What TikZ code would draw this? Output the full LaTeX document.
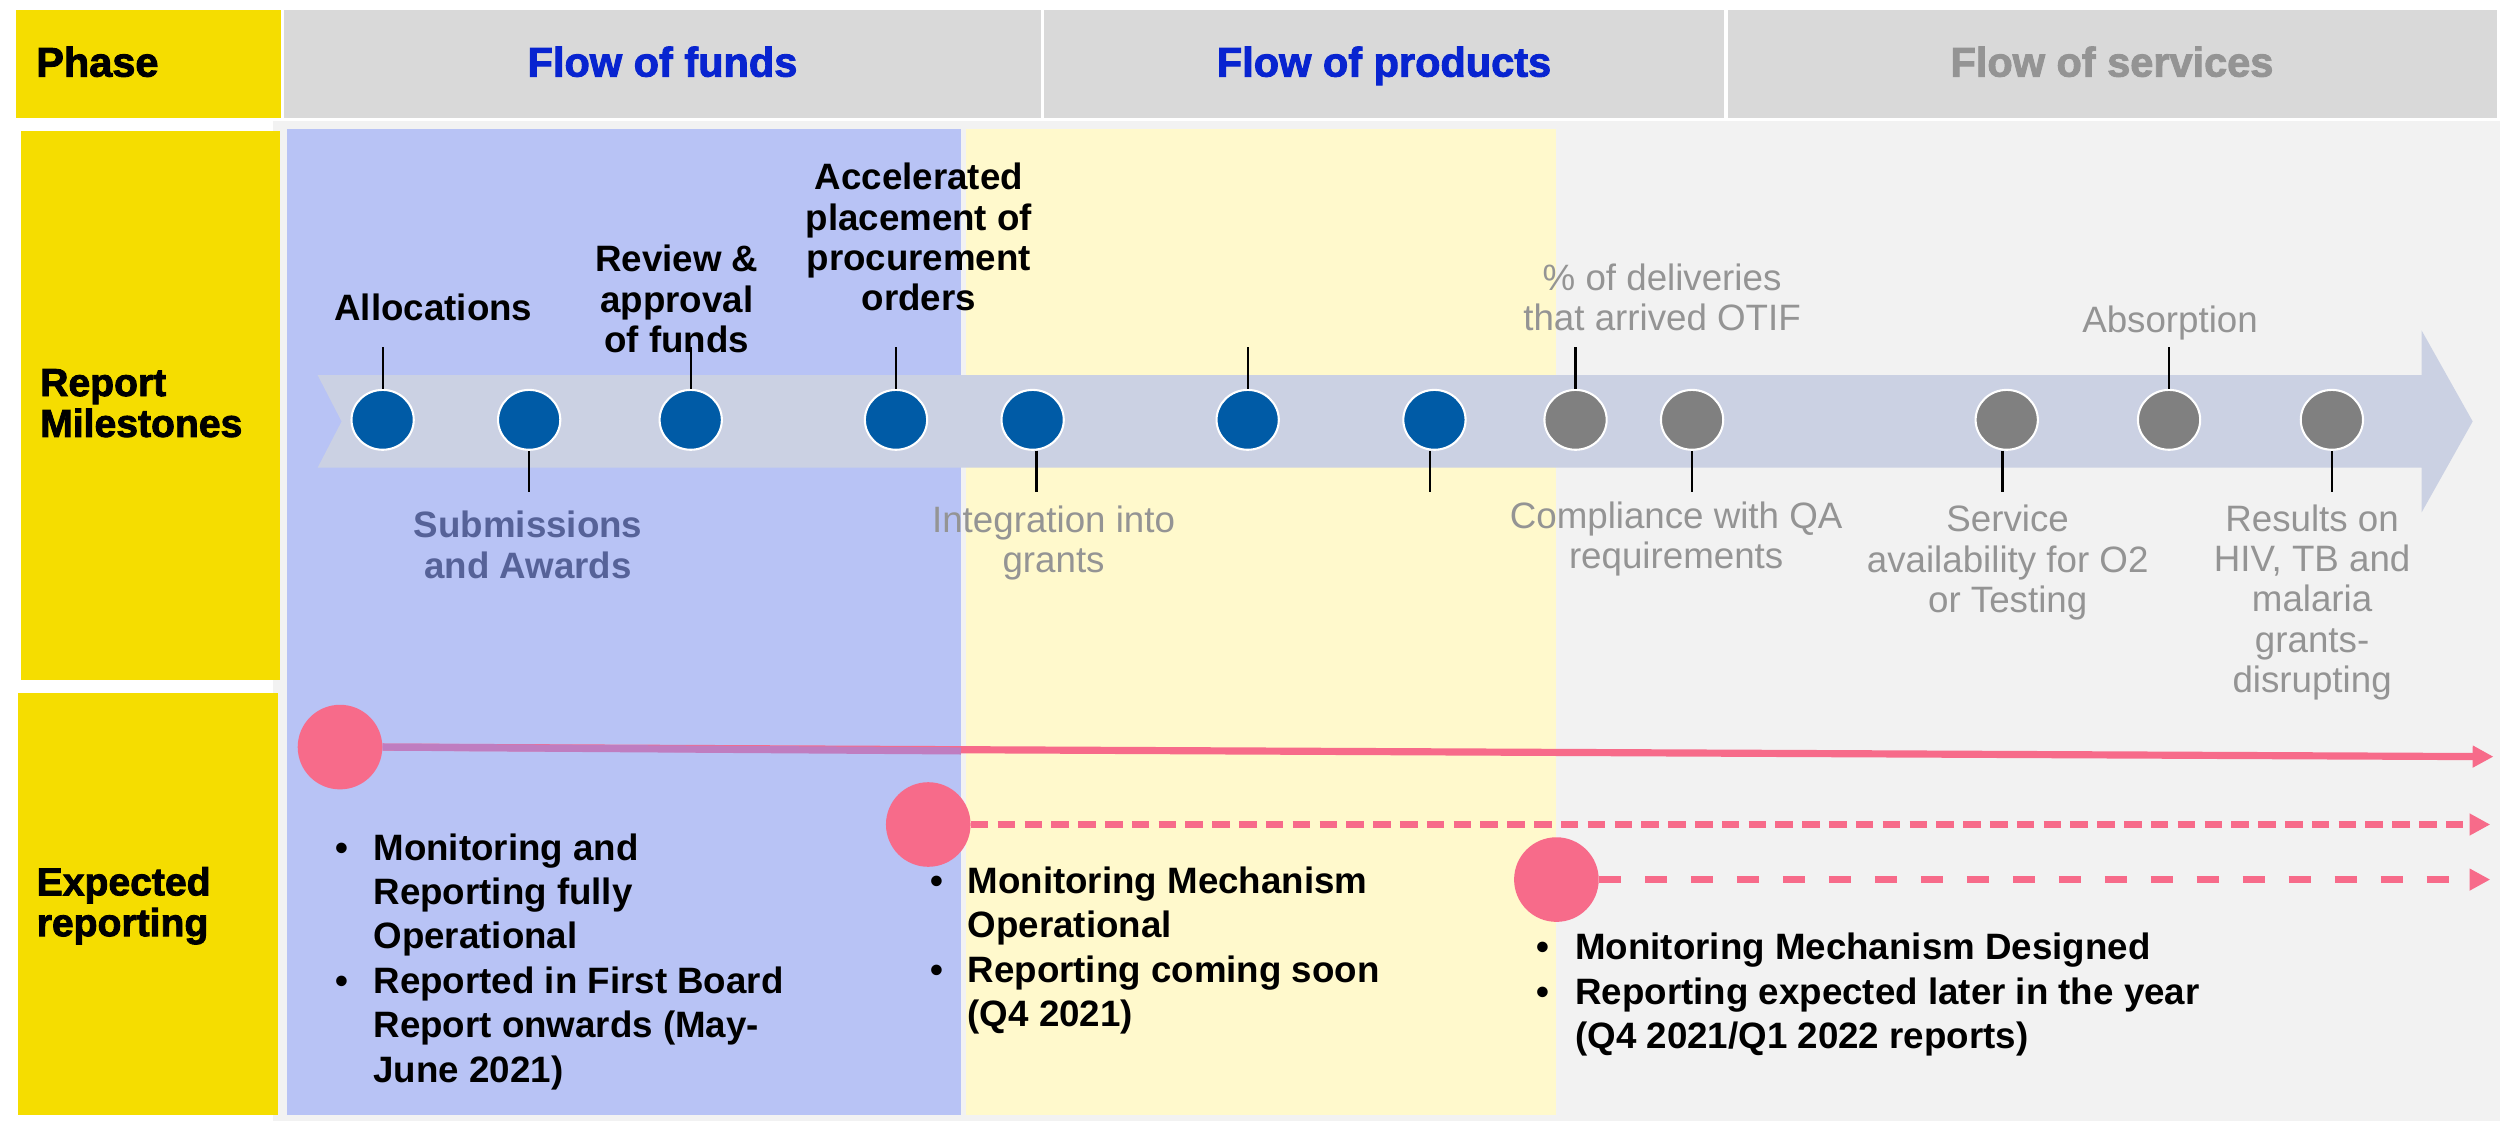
\documentclass[tikz,border=0pt]{standalone}
\usepackage{fontspec}
\setmainfont{Liberation Sans}
\newfontfamily\heavyfont[BoldFeatures={FakeBold=2.2}]{Liberation Sans}
\usetikzlibrary{arrows.meta,shapes.geometric}
\definecolor{yel}{RGB}{245,221,0}
\definecolor{hdrgray}{RGB}{217,217,217}
\definecolor{panel}{RGB}{242,242,242}
\definecolor{colblue}{RGB}{184,195,245}
\definecolor{colyel}{RGB}{255,249,204}
\definecolor{band}{RGB}{203,209,227}
\definecolor{dotblue}{RGB}{0,91,166}
\definecolor{dotgray}{RGB}{128,128,128}
\definecolor{hdrblue}{RGB}{8,36,208}
\definecolor{txtgray}{RGB}{148,148,148}
\definecolor{slate}{RGB}{86,98,152}
\definecolor{pinkc}{RGB}{247,107,138}
\definecolor{purp}{RGB}{191,125,192}
\tikzset{
  cell/.style={inner sep=0pt, anchor=north west},
  hdrtxt/.style={font=\heavyfont\bfseries\fontsize{26}{28}\selectfont, inner sep=0pt},
  sidetxt/.style={font=\heavyfont\bfseries\fontsize{24.5}{25.6}\selectfont, align=left, inner sep=0pt, anchor=west},
  lbl/.style={font=\fontsize{23}{25.2}\selectfont, align=center, inner sep=0pt, text=txtgray},
  blbl/.style={font=\bfseries\fontsize{23}{25.2}\selectfont, align=center, inner sep=0pt},
  bdot/.style={ellipse, minimum width=39pt, minimum height=37.5pt, inner sep=0pt, fill=dotblue, draw=white, line width=1.3pt},
  gdot/.style={bdot, fill=dotgray},
  tick/.style={line width=1.4pt, black},
  pdot/.style={circle, fill=pinkc, minimum size=53pt, inner sep=0pt},
  pline/.style={pinkc, line width=4.5pt, -{Triangle[length=13pt,width=13pt]}},
  bul/.style={font=\bfseries\fontsize{23}{27.8}\selectfont, inner sep=0pt, anchor=north west}
}
\begin{document}
\begin{tikzpicture}[x=1pt,y=-1pt]
\useasboundingbox (0,0) rectangle (1568,702);
\fill[white] (0,0) rectangle (1568,702);
% header
\node[cell, fill=yel, minimum width=166pt, minimum height=68pt] (phasebox) at (10,6) {};
\node[cell, fill=hdrgray, minimum width=474pt, minimum height=68pt] (fundsbox) at (178,6) {};
\node[cell, fill=hdrgray, minimum width=426pt, minimum height=68pt] (prodbox) at (654,6) {};
\node[cell, fill=hdrgray, minimum width=482pt, minimum height=68pt] (servbox) at (1082,6) {};
\node[hdrtxt, anchor=base west] (phaset) at (22.5,48) {Phase};
\node[hdrtxt, text=hdrblue, anchor=base] (fundst) at (415,48) {Flow of funds};
\node[hdrtxt, text=hdrblue, anchor=base] (prodt) at (867,48) {Flow of products};
\node[hdrtxt, text=txtgray, anchor=base] (servt) at (1323,48) {Flow of services};
% panels
\fill[panel] (171,75.6) rectangle (1566,702);
\fill[colblue] (180,81) rectangle (602,698.5);
\fill[colyel] (605,81) rectangle (974.5,698.5);
\node[cell, fill=yel, minimum width=162pt, minimum height=344pt] (rmbox) at (13,82) {};
\node[cell, fill=yel, minimum width=163pt, minimum height=264.5pt] (erbox) at (11,434) {};
\node[sidetxt] (rmt) at (25,252.6) {Report\\Milestones};
\node[sidetxt] (ert) at (22.8,567.4) {Expected\\reporting};
% timeline band
\fill[band] (199,235) -- (1517,235) -- (1517,207) -- (1549,264) -- (1517,321) -- (1517,293) -- (199,293) -- (214,264) -- cycle;
% dots
\node[bdot] (d1) at (239.7,263) {};
\node[bdot] (d2) at (331.5,263) {};
\node[bdot] (d3) at (432.7,263) {};
\node[bdot] (d4) at (561.3,263) {};
\node[bdot] (d5) at (646.9,263) {};
\node[bdot] (d6) at (781.6,263) {};
\node[bdot] (d7) at (898.6,263) {};
\node[gdot] (g1) at (987,263) {};
\node[gdot] (g2) at (1060,263) {};
\node[gdot] (g3) at (1257.1,263) {};
\node[gdot] (g4) at (1358.8,263) {};
\node[gdot] (g5) at (1460.8,263) {};
% ticks
\draw[tick] (d1.north) -- ++(0,-26);
\draw[tick] (d3.north) -- ++(0,-26);
\draw[tick] (d4.north) -- ++(0,-26);
\draw[tick] (d6.north) -- ++(0,-26);
\draw[tick] (g1.north) -- ++(0,-26);
\draw[tick] (g4.north) -- ++(0,-26);
\draw[tick] (d2.south) -- ++(0,26);
\draw[tick] ([xshift=2.4pt]d5.south) -- ++(0,26);
\draw[tick] ([xshift=-2.8pt]d7.south) -- ++(0,26);
\draw[tick] (g2.south) -- ++(0,26);
\draw[tick] ([xshift=-2.6pt]g3.south) -- ++(0,26);
\draw[tick] (g5.south) -- ++(0,26);
% milestone labels
\node[blbl, anchor=base] (allo) at (271.5,200.5) {Allocations};
\node[blbl] (review) at (424,187.3) {Review \&\\approval\\of funds};
\node[blbl] (accel) at (575.6,148.5) {Accelerated\\placement of\\procurement\\orders};
\node[blbl, text=slate] (subm) at (330.8,341.4) {Submissions\\and Awards};
\node[lbl] (integ) at (660,340) {Integration into\\grants};
\node[lbl] (otif) at (1041.2,186.4) {\% of deliveries\\that arrived OTIF};
\node[lbl] (compl) at (1050,337.7) {Compliance with QA\\requirements};
\node[lbl, anchor=base] (absorp) at (1359.4,208.6) {Absorption};
\node[lbl] (service) at (1257.7,352.5) {Service\\availability for O2\\or Testing};
\node[lbl] (results) at (1448.4,377.4) {Results on\\HIV, TB and\\malaria\\grants-\\disrupting};
% expected reporting lines
\node[pdot] (p1) at (213,468) {};
\coordinate (e1) at (1562,474);
\coordinate (m1) at (602,470.4);
\draw[pline] (p1.east) -- (e1);
\draw[purp, line width=4.5pt] (p1.east) -- (m1);
\node[pdot] (p2) at (581.5,516.5) {};
\coordinate (e2) at (1560,516.5);
\draw[pline, dash pattern=on 11pt off 5.8pt] (p2.east) -- (e2);
\node[pdot] (p3) at (975,551) {};
\coordinate (e3) at (1560,551);
\draw[pline, dash pattern=on 14pt off 14.8pt] (p3.east) -- (e3);
% bullet blocks
\node[bul] (b1) at (210,519.2) {\begin{tabular}{@{}p{23.8pt}@{}l@{}}
\textbullet & Monitoring and\\
 & Reporting fully\\
 & Operational\\
\textbullet & Reported in First Board\\
 & Report onwards (May-\\
 & June 2021)
\end{tabular}};
\node[bul] (b2) at (583,540.1) {\begin{tabular}{@{}p{23pt}@{}l@{}}
\textbullet & Monitoring Mechanism\\
 & Operational\\
\textbullet & Reporting coming soon\\
 & (Q4 2021)
\end{tabular}};
\node[bul] (b3) at (962.6,581.5) {\begin{tabular}{@{}p{24pt}@{}l@{}}
\textbullet & Monitoring Mechanism Designed\\
\textbullet & Reporting expected later in the year\\
 & (Q4 2021/Q1 2022 reports)
\end{tabular}};
\end{tikzpicture}
\end{document}
